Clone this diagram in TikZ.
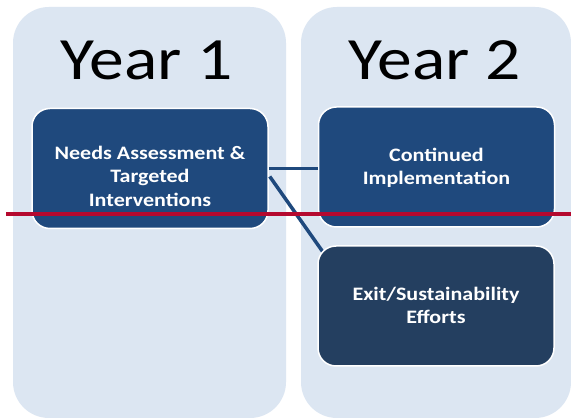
\documentclass[tikz,border=0pt]{standalone}
\usepackage{fontspec}
\usetikzlibrary{calc}
\setmainfont{Carlito}
\definecolor{panel}{HTML}{DCE6F2}
\definecolor{boxA}{HTML}{1F497D}
\definecolor{boxB}{HTML}{243F60}
\definecolor{redline}{HTML}{B5092F}
\newcommand{\wide}[1]{\scalebox{1.16}[1]{#1}}
\tikzset{
  panelbox/.style={fill=panel, rounded corners=36pt},
  yeartext/.style={anchor=base, font=\fontsize{60}{61}\selectfont, text=black, inner sep=0pt},
  stagebox/.style={draw=white, line width=1.5pt, rounded corners=18pt, text=white,
    font=\fontsize{19}{23.5}\selectfont\bfseries, align=center, inner sep=0pt,
    minimum width=236pt, minimum height=120pt},
  stagetext/.style={text=white, font=\fontsize{19}{23.5}\selectfont\bfseries, align=center},
  link/.style={draw=boxA, line width=3.5pt},
}
\begin{document}
\begin{tikzpicture}[x=1pt,y=-1pt]
\useasboundingbox (0,0) rectangle (571,419);
\fill[white] (0,0) rectangle (571,419);
% panels
\path[panelbox] (13,7) rectangle (286,418);
\path[panelbox] (301,7) rectangle (571,418);
\node[yeartext] (y1) at (147,80) {\wide{Year 1}};
\node[yeartext] (y2) at (435,80) {\wide{Year 2}};
% boxes
\node[stagebox, fill=boxA] (b1) at (150,168.5) {};
\node[stagebox, fill=boxA] (b2) at (436.5,167) {};
% connectors
\coordinate (d1) at ($(b1.east)+(1,8)$);
\coordinate (d2) at ($(b2.south west)+(5,24)$);
\path[link] (b1.east) -- (b1.east -| b2.west);
\path[link] (d1) -- (d2);
\node[stagebox, fill=boxB] (b3) at (436,306) {};
% texts
\node[stagetext] (t1) at (150,176) {\wide{Needs Assessment \&}\\\wide{Targeted}\\\wide{Interventions}};
\node[stagetext] (t2) at (436.5,168) {\wide{Continued}\\\wide{Implementation}};
\node[stagetext] (t3) at (436,305.5) {\wide{Exit/Sustainability}\\\wide{Efforts}};
% red line
\coordinate (r1) at (6,214);
\coordinate (r2) at (571,214);
\draw[redline, line width=4pt] (r1) -- (r2);
\end{tikzpicture}
\end{document}
